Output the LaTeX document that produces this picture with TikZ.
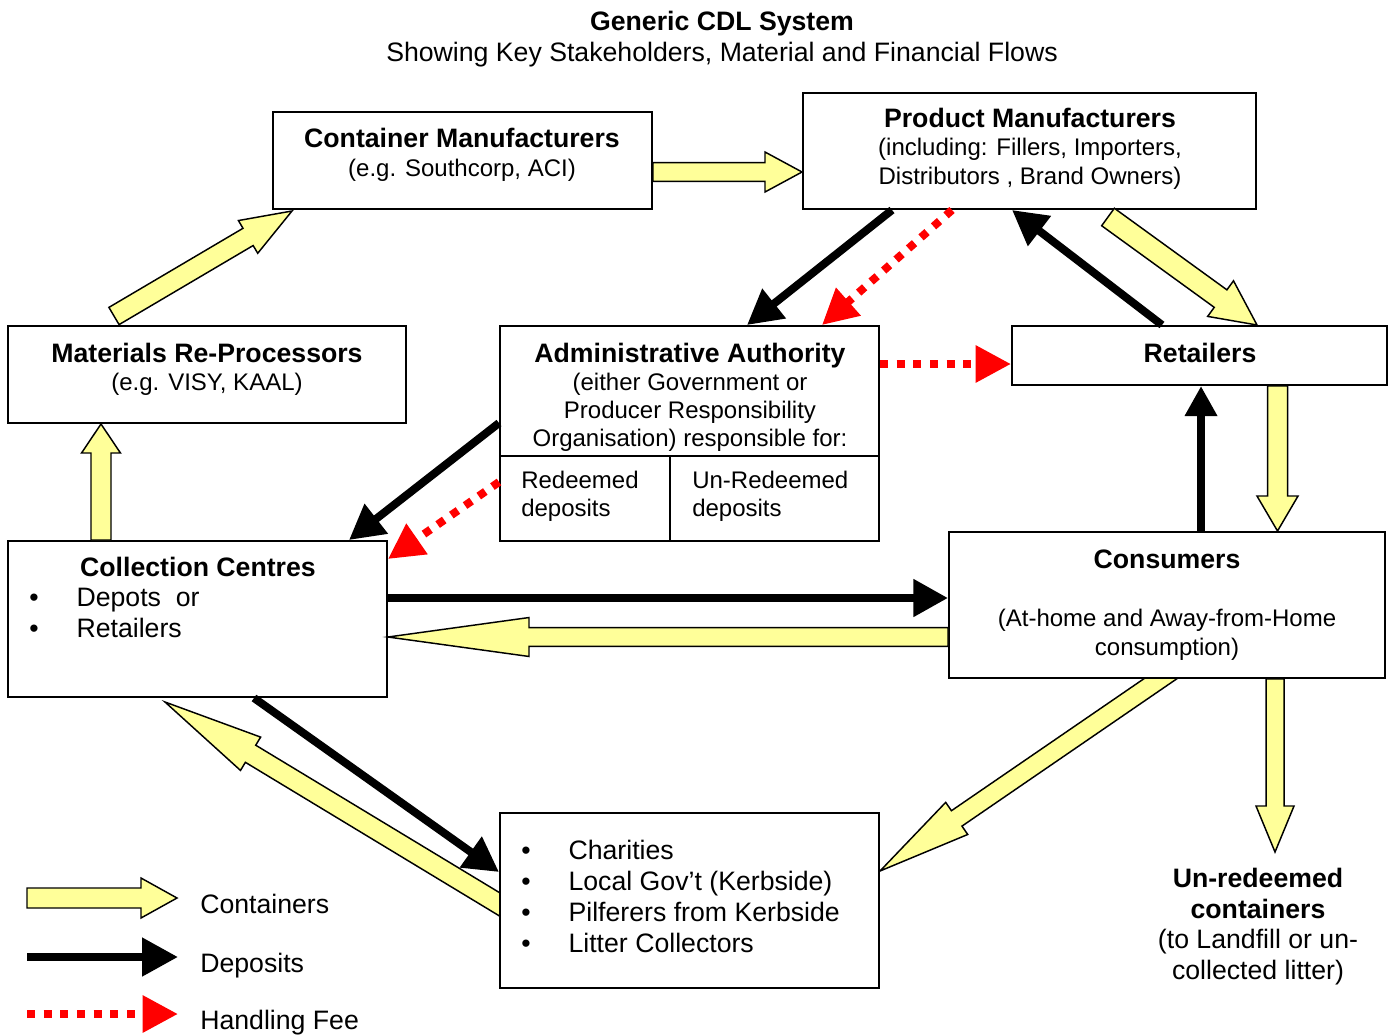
\documentclass[tikz,border=0pt]{standalone}
\usepackage{fontspec}
\setmainfont{Liberation Sans}
\usetikzlibrary{arrows.meta,calc,fit}

\definecolor{flowyellow}{RGB}{255,255,153}
\definecolor{feered}{RGB}{255,0,0}

\pgfdeclarelayer{behind}
\pgfsetlayers{behind,main}

% bullet with a fixed indent for the list nodes
\newcommand\itemdot{\makebox[35.5pt][l]{\textbullet}}

% block arrow: #1 tail, #2 tip, #3 shaft half-width, #4 head half-width, #5 head length
\newcommand\blockarrow[5]{%
  \draw[container]
    ($(#1)!#3!90:(#2)$) --
    ($(#2)!#5!(#1)!#3!-90:(#1)$) --
    ($(#2)!#5!(#1)!#4!-90:(#1)$) --
    (#2) --
    ($(#2)!#5!(#1)!#4!90:(#1)$) --
    ($(#2)!#5!(#1)!#3!90:(#1)$) --
    ($(#1)!#3!-90:(#2)$) -- cycle;}

\begin{document}
\begin{tikzpicture}[x=0.75pt,y=-0.75pt,
  box/.style={draw=black, line width=1.5pt, fill=white, inner sep=0pt},
  head/.style={font=\fontsize{20}{23.25}\selectfont\bfseries, inner sep=0pt, anchor=base},
  body/.style={font=\fontsize{18}{21.75}\selectfont, inner sep=0pt, align=center},
  list/.style={font=\fontsize{20}{23.25}\selectfont, inner sep=0pt, align=left, anchor=north west},
  container/.style={draw=black, line width=1.1pt, fill=flowyellow, line join=miter},
  deposit/.style={draw=black, line width=6pt, -{Triangle[length=26pt,width=27pt]}},
  fee/.style={draw=feered, line width=6pt, dash pattern=on 6pt off 6.5pt,
              -{Triangle[length=26.5pt,width=26.5pt,fill=feered]}},
]
\useasboundingbox (0,0) rectangle (1394,1035);

% ---------- title ----------
\node[head] (title) at (722,30.5) {Generic CDL System};
\node[head, font=\fontsize{20}{23.25}\selectfont] (subtitle) at (722,61.5)
  {Showing Key Stakeholders, Material and Financial Flows};

% ---------- stakeholder boxes ----------
\node[box, fit={(273,112) (652,209)}] (cm) {};
\node[box, fit={(803,93) (1256,209)}] (pm) {};
\node[box, fit={(8,326) (406,423)}] (mrp) {};
\node[box, fit={(500,326) (879,541)}] (aa) {};
\node[box, fit={(500,456) (670,541)}] (rd) {};
\node[box, fit={(670,456) (879,541)}] (ud) {};
\node[box, fit={(1012,326) (1387,385)}] (ret) {};
\node[box, fit={(8,541) (387,697)}] (cc) {};
\node[box, fit={(949,532) (1385,678)}] (con) {};
\node[box, fit={(500,813) (879,988)}] (col) {};

% ---------- box texts ----------
\node[head] (cmT) at (462,147.5) {Container Manufacturers};
\node[body, anchor=base] (cmS) at (462,176.6) {(e.g. Southcorp, ACI)};

\node[head] (pmT) at (1030,127.5) {Product Manufacturers};
\node[body, anchor=north] (pmS) at (1030,138)
  {(including: Fillers, Importers,\\Distributors , Brand Owners)};

\node[head] (mrpT) at (207,362.5) {Materials Re-Processors};
\node[body, anchor=base] (mrpS) at (207,390.6) {(e.g. VISY, KAAL)};

\node[head] (aaT) at (690,362.5) {Administrative Authority};
\node[body, anchor=north, font=\fontsize{18}{21}\selectfont] (aaS) at (690,373)
  {(either Government or\\Producer Responsibility\\Organisation) responsible for:};
\node[body, anchor=north west, align=left, font=\fontsize{18}{21}\selectfont] (rdT) at (521,471)
  {Redeemed\\deposits};
\node[body, anchor=north west, align=left, font=\fontsize{18}{21}\selectfont] (udT) at (692,471)
  {Un-Redeemed\\deposits};

\node[head] (retT) at (1200,362.5) {Retailers};

\node[head] (ccT) at (198,576.5) {Collection Centres};
\node[list] (ccL) at (29,588) {\itemdot Depots~ or\\\itemdot Retailers};

\node[head] (conT) at (1167,568.5) {Consumers};
\node[body, anchor=north] (conS) at (1167,609)
  {(At-home and Away-from-Home\\consumption)};

\node[list] (colL) at (521,840)
  {\itemdot Charities\\\itemdot Local Gov’t (Kerbside)\\\itemdot Pilferers from Kerbside\\\itemdot Litter Collectors};

\node[list, anchor=north, align=center, font=\fontsize{20}{23}\selectfont] (ur) at (1258,868)
  {\textbf{Un-redeemed}\\\textbf{containers}\\(to Landfill or un-\\collected litter)};

% ---------- container flows ----------
\coordinate (c1a) at ($(cm.south east)+(0,-38)$);
\coordinate (c1b) at (pm.west |- c1a);
\blockarrow{c1a}{c1b}{7.1pt}{15pt}{27.75pt}

\coordinate (c2a) at ($(mrp.north west)+(107,-9)$);
\coordinate (c2b) at ($(cm.south west)+(20,1)$);
\blockarrow{c2a}{c2b}{7.5pt}{14.25pt}{38.25pt}

\coordinate (c3a) at ($(cc.north west)+(94,0)$);
\coordinate (c3b) at (mrp.south -| c3a);
\blockarrow{c3a}{c3b}{7.5pt}{14.6pt}{21.75pt}

\coordinate (c4a) at ($(pm.south west)+(306,7)$);
\coordinate (c4b) at ($(ret.north west)+(246,0)$);
\blockarrow{c4a}{c4b}{8.1pt}{16.5pt}{33.75pt}

\coordinate (c5a) at ($(ret.south west)+(266.5,0)$);
\coordinate (c5b) at (con.north -| c5a);
\blockarrow{c5a}{c5b}{7.5pt}{15.4pt}{26.25pt}

\coordinate (c6a) at ($(con.north west)+(0,106)$);
\coordinate (c6b) at (cc.east |- c6a);
\blockarrow{c6a}{c6b}{7.1pt}{14.6pt}{105.75pt}

% these two leave their box at a slant: the tails start inside the box
% and are drawn behind it, so the box edge cuts them off
\coordinate (c7a) at ($(con.south west)+(212,0)$);
\coordinate (c7b) at ($(col.north east)+(0,59)$);
\coordinate (c7t) at ($(c7a)!-0.08!(c7b)$);
\begin{pgfonlayer}{behind}
\blockarrow{c7t}{c7b}{7pt}{14.6pt}{69.75pt}
\end{pgfonlayer}

\coordinate (c9a) at ($(col.north west)+(0,92)$);
\coordinate (c9b) at ($(cc.south west)+(158,4)$);
\coordinate (c9t) at ($(c9a)!-0.08!(c9b)$);
\begin{pgfonlayer}{behind}
\blockarrow{c9t}{c9b}{7.5pt}{14.6pt}{75pt}
\end{pgfonlayer}

\coordinate (c8a) at ($(con.south west)+(327,0)$);
\coordinate (c8b) at ($(c8a |- ur.north)+(0,-16)$);
\blockarrow{c8a}{c8b}{6.75pt}{14.25pt}{34.5pt}

% ---------- deposit flows ----------
\coordinate (d1a) at ($(pm.south west)+(90,0)$);
\coordinate (d1b) at ($(aa.north west)+(248,0)$);
\draw[deposit] (d1a) -- (d1b);

\coordinate (d2a) at ($(ret.north west)+(151,0)$);
\coordinate (d2b) at ($(pm.south west)+(210,0)$);
\draw[deposit] (d2a) -- (d2b);

\coordinate (d3a) at ($(con.north west)+(253,0)$);
\coordinate (d3b) at (ret.south -| d3a);
\draw[deposit, -{Triangle[length=22.5pt,width=23pt]}] (d3a) -- (d3b);

\coordinate (d4a) at ($(aa.north west)+(0,98)$);
\coordinate (d4b) at ($(cc.north west)+(342,0)$);
\draw[deposit] (d4a) -- (d4b);

\coordinate (d5a) at ($(cc.north east)+(0,58)$);
\coordinate (d5b) at (con.west |- d5a);
\draw[deposit] (d5a) -- (d5b);

\coordinate (d6a) at ($(cc.south west)+(247,0)$);
\coordinate (d6b) at ($(col.north west)+(0,60)$);
\draw[deposit] (d6a) -- (d6b);

% ---------- handling fee flows ----------
\coordinate (f1a) at ($(pm.south west)+(150,0)$);
\coordinate (f1b) at ($(aa.north west)+(323,0)$);
\draw[fee] (f1a) -- (f1b);

\coordinate (f2a) at ($(aa.north east)+(0,39)$);
\coordinate (f2b) at (ret.west |- f2a);
\draw[fee] (f2a) -- (f2b);

\coordinate (f3a) at ($(rd.north west)+(0,27)$);
\coordinate (f3b) at ($(cc.north east)+(0,19)$);
\draw[fee] (f3a) -- (f3b);

% ---------- legend ----------
\coordinate (lg1a) at (27,898);
\coordinate (lg1b) at (177,898);
\blockarrow{lg1a}{lg1b}{7.5pt}{15pt}{27pt}
\node[list, anchor=base west] (lg1) at (200,913) {Containers};

\coordinate (lg2a) at (27,957);
\coordinate (lg2b) at (178,957);
\draw[deposit, -{Triangle[length=27pt,width=27.75pt]}] (lg2a) -- (lg2b);
\node[list, anchor=base west] (lg2) at (200,972) {Deposits};

\coordinate (lg3a) at (27,1014);
\coordinate (lg3b) at (178,1014);
\draw[fee] (lg3a) -- (lg3b);
\node[list, anchor=base west] (lg3) at (200,1029) {Handling Fee};
\end{tikzpicture}
\end{document}
